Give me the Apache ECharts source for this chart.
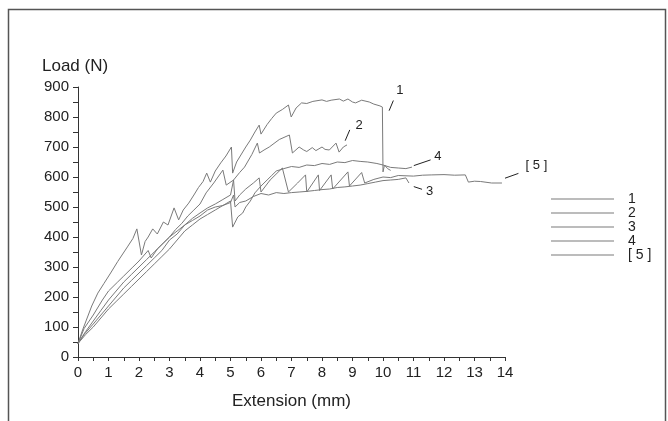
<!DOCTYPE html>
<html><head><meta charset="utf-8">
<script src="https://cdn.jsdelivr.net/npm/echarts@6/dist/echarts.min.js"></script>
<style>html,body{margin:0;padding:0;background:#fff}#c{width:668px;height:421px}</style>
</head><body><div id="c"></div>
<script>
// Extension (mm), Load (N) pairs
const seriesNames = ['1', '2', '3', '4', '[ 5 ]'];
const curve1 = [[0,45],[0.15,90],[0.3,130],[0.45,170],[0.65,213],[0.85,245],[1.07,280],[1.3,318],[1.62,367],[1.8,395],[1.93,427],[2.08,340],[2.2,385],[2.3,400],[2.45,427],[2.6,410],[2.8,450],[2.95,440],[3.15,497],[3.3,457],[3.45,490],[3.63,513],[3.8,540],[3.95,565],[4.1,585],[4.22,613],[4.34,583],[4.5,620],[4.68,647],[4.85,670],[5.03,700],[5.07,613],[5.2,650],[5.38,680],[5.5,700],[5.65,723],[5.8,750],[5.94,773],[6.0,743],[6.2,775],[6.35,795],[6.5,813],[6.7,825],[6.9,840],[6.99,800],[7.15,830],[7.33,847],[7.5,845],[7.7,852],[8.0,857],[8.15,852],[8.3,856],[8.57,860],[8.7,853],[8.85,860],[9.0,850],[9.1,847],[9.3,856],[9.55,850],[9.7,843],[9.9,837],[9.98,833],[10.0,617],[10.05,640],[10.15,628],[10.25,622]];
const curve2 = [[0,45],[0.2,95],[0.5,140],[0.8,190],[1.0,220],[1.3,250],[1.5,270],[1.8,300],[2.0,320],[2.3,355],[2.4,330],[2.6,360],[2.8,380],[3.0,400],[3.2,425],[3.4,445],[3.6,470],[3.8,490],[4.0,510],[4.2,547],[4.45,580],[4.75,623],[4.86,573],[5.1,590],[5.3,615],[5.46,633],[5.7,675],[5.88,713],[5.95,680],[6.1,690],[6.27,700],[6.6,725],[6.93,740],[7.03,680],[7.25,700],[7.4,690],[7.5,685],[7.68,698],[7.8,688],[8.0,700],[8.1,692],[8.24,690],[8.46,713],[8.56,683],[8.7,700],[8.82,707]];
const curve3 = [[0,45],[0.2,75],[0.5,110],[0.75,140],[1.0,170],[1.25,200],[1.5,230],[1.75,255],[2.0,280],[2.25,305],[2.5,330],[2.75,355],[3.0,390],[3.25,410],[3.5,440],[3.75,455],[4.0,470],[4.25,490],[4.5,500],[4.75,505],[5.0,515],[5.1,540],[5.15,500],[5.3,515],[5.5,520],[5.75,535],[6.0,545],[6.25,540],[6.5,548],[6.75,545],[7.0,548],[7.25,550],[7.5,552],[7.75,555],[8.0,558],[8.25,560],[8.5,565],[8.75,567],[9.0,570],[9.25,573],[9.5,578],[9.75,583],[10.0,588],[10.25,590],[10.5,592],[10.75,597],[10.85,580]];
const curve4 = [[0,45],[0.25,75],[0.5,100],[0.75,130],[1.0,160],[1.25,185],[1.5,210],[1.75,235],[2.0,260],[2.25,285],[2.5,310],[2.75,335],[3.0,360],[3.25,390],[3.5,420],[3.75,440],[4.0,460],[4.25,475],[4.5,490],[4.75,505],[5.0,520],[5.07,433],[5.24,467],[5.4,480],[5.5,500],[5.65,520],[5.8,547],[6.0,570],[6.2,590],[6.35,605],[6.5,620],[6.75,628],[7.0,635],[7.25,632],[7.5,640],[7.75,638],[8.0,645],[8.25,642],[8.5,650],[8.75,648],[9.0,655],[9.25,652],[9.5,650],[9.8,645],[10.0,640],[10.25,632],[10.5,630],[10.75,628],[10.95,633]];
const curve5 = [[0,45],[0.25,85],[0.5,120],[0.75,155],[1.0,190],[1.25,220],[1.5,250],[1.75,275],[2.0,300],[2.25,325],[2.5,350],[2.75,375],[3.0,400],[3.25,420],[3.5,440],[3.75,462],[4.0,480],[4.25,497],[4.5,510],[4.75,525],[5.0,540],[5.1,590],[5.15,520],[5.3,540],[5.5,560],[5.75,580],[5.94,597],[6.0,550],[6.3,590],[6.7,630],[6.9,550],[7.2,580],[7.46,607],[7.5,550],[7.88,607],[7.92,555],[8.3,607],[8.35,560],[8.85,617],[8.9,570],[9.3,615],[9.4,580],[9.7,592],[10.0,600],[10.25,598],[10.5,605],[11.0,603],[11.3,606],[11.6,607],[12.0,608],[12.35,606],[12.7,607],[12.8,583],[13.0,586],[13.2,585],[13.56,580],[13.9,580]];
const curves = [curve1, curve2, curve3, curve4, curve5];
// annotation leaders in data space: [from, to, label position]
const leaders = [
  [[10.2,821],[10.34,855],[10.55,890]],
  [[8.76,721],[8.91,757],[9.22,773]],
  [[11.01,568],[11.28,559],[11.53,553]],
  [[11.01,638],[11.56,657],[11.8,670]],
  [[14.0,596],[14.44,612],[15.03,638]]
];
const xTickLabels = ['0','1','2','3','4','5','6','7','8','9','10','11','12','13','14'];
const yTickLabels = ['0','100','200','300','400','500','600','700','800','900'];

const FONT = 'Liberation Sans, Arial, sans-serif';
const lineColor = '#7a7a7a';
const chart = echarts.init(document.getElementById('c'), null, {renderer:'canvas'});
const series = curves.map((d, i) => ({
  name: seriesNames[i], type: 'line', data: d, showSymbol: false, symbol: 'none',
  clip: false, animation: false,
  lineStyle: {color: lineColor, width: 1}, itemStyle: {color: lineColor}
}));
chart.setOption({
  animation: false,
  backgroundColor: '#fff',
  grid: {left: 78, right: 163, top: 87, bottom: 64},
  xAxis: {
    type: 'value', min: 0, max: 14, interval: 0.5,
    name: 'Extension (mm)', nameLocation: 'middle', nameGap: 36,
    nameTextStyle: {fontSize: 17, color: '#222', fontFamily: FONT},
    axisLine: {lineStyle: {color: '#333', width: 1}},
    axisTick: {show: true, length: 4, lineStyle: {color: '#333'}},
    axisLabel: {color: '#222', fontSize: 15, fontFamily: FONT, margin: 8,
      formatter: v => (Number.isInteger(v) ? xTickLabels[v] : '')},
    splitLine: {show: false}
  },
  yAxis: {
    type: 'value', min: 0, max: 900, interval: 50,
    name: 'Load (N)', nameLocation: 'end', nameGap: 12,
    nameTextStyle: {fontSize: 17, color: '#222', fontFamily: FONT, align: 'left', padding: [0,0,0,-36]},
    axisLine: {show: true, lineStyle: {color: '#333', width: 1}},
    axisTick: {show: true, length: 5, lineStyle: {color: '#333'}},
    axisLabel: {color: '#222', fontSize: 15, fontFamily: FONT, margin: 9,
      formatter: v => (v % 100 === 0 ? yTickLabels[v / 100] : '')},
    splitLine: {show: false}
  },
  legend: {
    orient: 'vertical', left: 551, top: 192, padding: 0, itemWidth: 63, itemHeight: 1,
    itemGap: 0, icon: 'rect', selectedMode: false,
    textStyle: {fontSize: 14, lineHeight: 13, color: '#222', fontFamily: FONT, padding: [0,0,0,9]},
    data: seriesNames.map(n => ({name: n, itemStyle: {color: lineColor}}))
  },
  series: series
});
// annotations placed through the chart's own coordinate conversion
const gfx = [{
  type: 'rect', silent: true,
  shape: {x: 8.5, y: 9.5, width: 657, height: 430},
  style: {fill: 'none', stroke: '#555', lineWidth: 1.5}
}];
leaders.forEach((L, i) => {
  const a = chart.convertToPixel({gridIndex: 0}, L[0]);
  const b = chart.convertToPixel({gridIndex: 0}, L[1]);
  const c = chart.convertToPixel({gridIndex: 0}, L[2]);
  gfx.push({type: 'line', silent: true, shape: {x1: a[0], y1: a[1], x2: b[0], y2: b[1]},
    style: {stroke: '#222', lineWidth: 1}});
  gfx.push({type: 'text', silent: true, x: c[0], y: c[1],
    style: {text: seriesNames[i], fill: '#222', font: '13px ' + FONT, textAlign: 'center', textVerticalAlign: 'middle'}});
});
chart.setOption({graphic: gfx});
</script></body></html>
